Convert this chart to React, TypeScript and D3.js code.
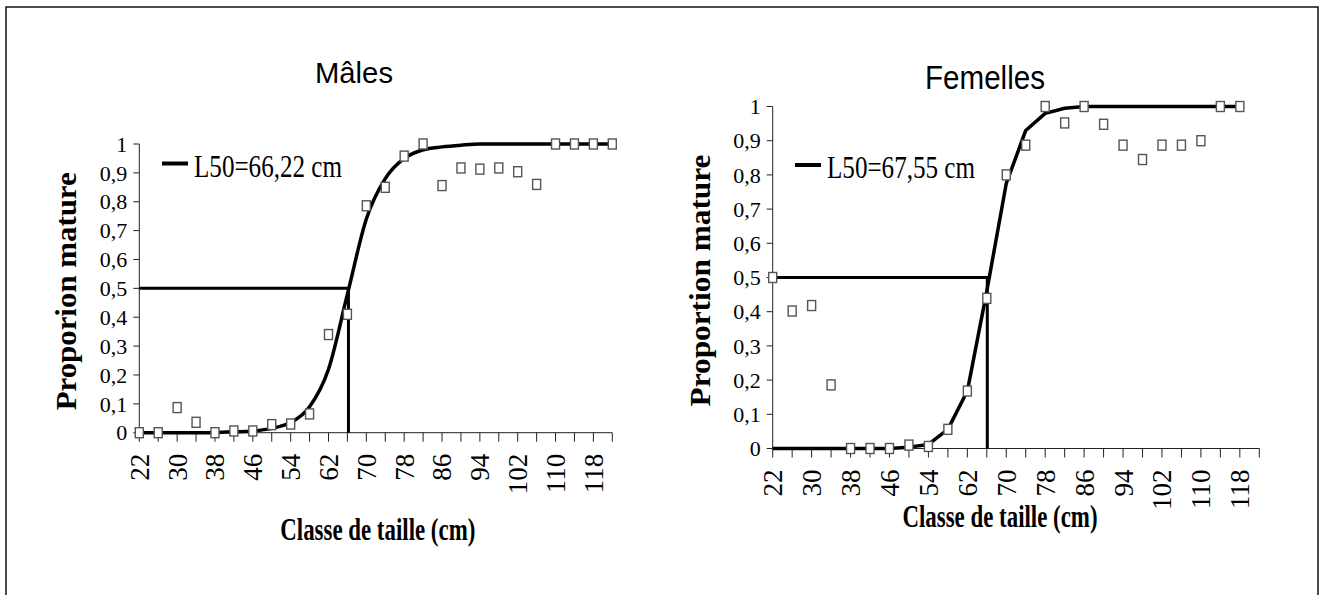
import * as d3 from "d3";

// size classes (cm), one every 4 cm
const sizeClasses = [22, 26, 30, 34, 38, 42, 46, 50, 54, 58, 62, 66, 70, 74, 78, 82, 86, 90, 94, 98, 102, 106, 110, 114, 118, 122];
const xTickLabels = [22, 30, 38, 46, 54, 62, 70, 78, 86, 94, 102, 110, 118];
const yTicks = [0, 0.1, 0.2, 0.3, 0.4, 0.5, 0.6, 0.7, 0.8, 0.9, 1];

// males: observed proportion mature and fitted ogive
const malesObserved = [0, 0, 0.087, 0.036, 0, 0.006, 0.006, 0.028, 0.03, 0.065, 0.34, 0.41, 0.786, 0.85, 0.958, 1, 0.856, 0.917, 0.913, 0.917, 0.904, 0.86, 1, 1, 1, 1];
const malesFitted = [0, 0, 0, 0, 0.001, 0.003, 0.006, 0.015, 0.035, 0.09, 0.22, 0.48, 0.74, 0.88, 0.95, 0.98, 0.99, 0.996, 1, 1, 1, 1, 1, 1, 1, 1];
const malesL50 = 66.22;
const malesLegend = "L50=66,22 cm";

// females (22 to 118 cm)
const femalesObserved = [0.5, 0.402, 0.418, 0.186, 0, 0, 0, 0.01, 0.006, 0.056, 0.168, 0.439, 0.8, 0.887, 1, 0.952, 1, 0.948, 0.887, 0.845, 0.887, 0.887, 0.9, 1, 1];
const femalesFitted = [0, 0, 0, 0, 0, 0, 0, 0.004, 0.012, 0.056, 0.168, 0.46, 0.775, 0.93, 0.98, 0.995, 1, 1, 1, 1, 1, 1, 1, 1, 1];
const femalesL50 = 66.1; // where the guide sits in the figure
const femalesLegend = "L50=67,55 cm";

const serif = "'Liberation Serif', 'Times New Roman', serif";
const sans = "'Liberation Sans', Arial, sans-serif";

function Panel({ p }: { p: any }) {
  const x = d3.scaleLinear().domain([22, 122]).range([p.left, p.right]);
  const y = d3.scaleLinear().domain([0, 1]).range([p.bottom, p.top]);

  const fitted: [number, number][] = p.fitted.map((v: number, i: number) => [sizeClasses[i], v]);
  const observed: [number, number][] = p.observed.map((v: number, i: number) => [sizeClasses[i], v]);

  const line = d3
    .line<[number, number]>()
    .x(d => x(d[0]))
    .y(d => y(d[1]))
    .curve(p.smooth ? d3.curveMonotoneX : d3.curveLinear);

  const midY = (p.top + p.bottom) / 2;
  const midX = (p.left + p.right) / 2;

  return (
    <g>
      <text x={p.titleX} y={p.titleY} textAnchor="middle" fontFamily={sans} fontSize={p.titleSize}
        textLength={p.titleLen} lengthAdjust="spacingAndGlyphs">
        {p.title}
      </text>

      {/* axes */}
      <line x1={p.left} x2={p.left} y1={y(0)} y2={y(1)} stroke="#222" strokeWidth={1} />
      <line x1={p.left} x2={p.right} y1={y(0)} y2={y(0)} stroke="#222" strokeWidth={1} />
      {yTicks.map(t => (
        <g key={"y" + t}>
          <line x1={p.left - 6} x2={p.left} y1={y(t)} y2={y(t)} stroke="#222" />
          <text x={p.left - 12} y={y(t)} dy="0.35em" textAnchor="end" fontFamily={serif} fontSize={22}>
            {String(t).replace(".", ",")}
          </text>
        </g>
      ))}
      {sizeClasses.map(c => (
        <line key={"xt" + c} x1={x(c)} x2={x(c)} y1={y(0)} y2={y(0) + 9} stroke="#222" />
      ))}
      {xTickLabels.map(c => (
        <text key={"xl" + c} transform={`translate(${x(c)},${y(0) + 21}) rotate(-90)`} dy="0.35em"
          textAnchor="end" fontFamily={serif} fontSize={27}>
          {c}
        </text>
      ))}

      {/* axis titles */}
      <text transform={`translate(${p.yLabelX},${midY + 3}) rotate(-90)`} textAnchor="middle" fontFamily={serif}
        fontWeight="bold" fontSize={30} textLength={p.yLabelLen} lengthAdjust="spacingAndGlyphs">
        {p.yLabel}
      </text>
      <text x={midX + p.xLabelShift} y={p.xLabelY} textAnchor="middle" fontFamily={serif} fontWeight="bold"
        fontSize={32} textLength={195} lengthAdjust="spacingAndGlyphs">
        Classe de taille (cm)
      </text>

      {/* L50 guides */}
      <path d={`M${x(22)},${y(0.5)}H${x(p.l50)}V${y(0)}`} fill="none" stroke="#000" strokeWidth={3} />

      {/* fitted ogive */}
      <path d={line(fitted) || ""} fill="none" stroke="#000" strokeWidth={3.5} strokeLinejoin="round" />

      {/* observed proportions */}
      {observed.map(d => (
        <rect key={"o" + d[0]} x={x(d[0]) - 4} y={y(d[1]) - 5} width={8} height={10} fill="#fff"
          stroke="#555" strokeWidth={1.4} />
      ))}

      {/* legend */}
      <line x1={p.legX} x2={p.legX + 26} y1={p.legY} y2={p.legY} stroke="#000" strokeWidth={4} />
      <text x={p.legX + 32} y={p.legY + 13} fontFamily={serif} fontSize={31} textLength={148}
        lengthAdjust="spacingAndGlyphs">
        {p.legend}
      </text>
    </g>
  );
}

export default function App() {
  const males = {
    title: "Mâles", titleX: 354, titleY: 83, titleSize: 29, titleLen: 78,
    left: 139.3, right: 612.3, top: 144, bottom: 432.7,
    observed: malesObserved, fitted: malesFitted, smooth: true, l50: malesL50,
    yLabel: "Proporion mature", yLabelX: 76, yLabelLen: 238,
    xLabelY: 540, xLabelShift: 2,
    legend: malesLegend, legX: 162, legY: 163.5,
  };
  const females = {
    title: "Femelles", titleX: 985, titleY: 89, titleSize: 34, titleLen: 120,
    left: 772.7, right: 1259.3, top: 106.5, bottom: 448.5,
    observed: femalesObserved, fitted: femalesFitted, smooth: false, l50: femalesL50,
    yLabel: "Proportion mature", yLabelX: 710, yLabelLen: 252,
    xLabelY: 527, xLabelShift: -16,
    legend: femalesLegend, legX: 795, legY: 165,
  };
  return (
    <svg width={1324} height={595} style={{ position: "absolute", left: 0, top: 0, background: "#fff" }}>
      <rect x={6} y={7} width={1312} height={620} fill="#fff" stroke="#111" strokeWidth={1.5} />
      <Panel p={males} />
      <Panel p={females} />
    </svg>
  );
}
